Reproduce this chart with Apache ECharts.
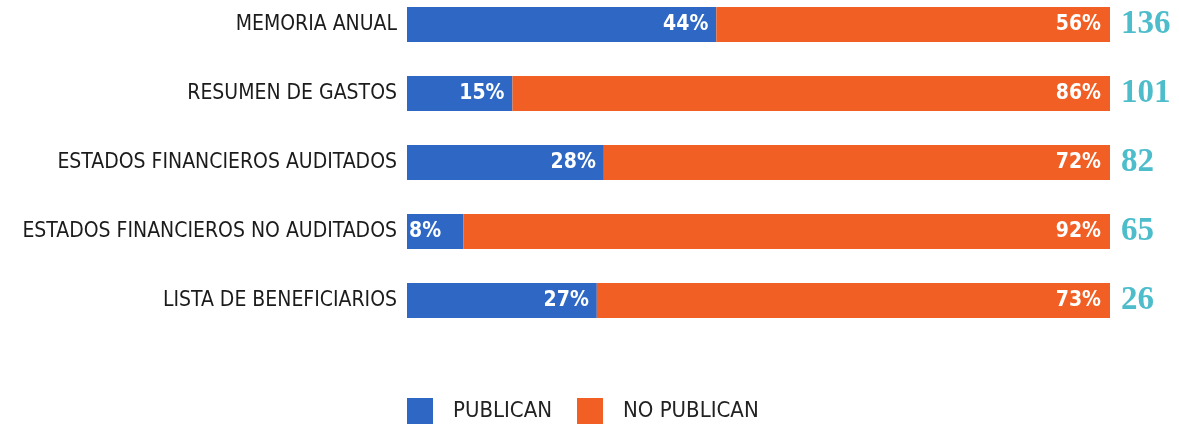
<!DOCTYPE html>
<html>
<head>
<meta charset="utf-8">
<script src="https://cdn.jsdelivr.net/npm/echarts@6/dist/echarts.min.js"></script>
<style>
  html, body { margin: 0; padding: 0; background: #ffffff; }
  #chart { width: 1179px; height: 424px; }
</style>
</head>
<body>
<div id="chart"></div>
<script>
// Publication of documents: share that publish vs. do not publish
const categories = [
  'MEMORIA ANUAL',
  'RESUMEN DE GASTOS',
  'ESTADOS FINANCIEROS AUDITADOS',
  'ESTADOS FINANCIEROS NO AUDITADOS',
  'LISTA DE BENEFICIARIOS'
];
const publican = [44, 15, 28, 8, 27];
const noPublican = [56, 86, 72, 92, 73];
const totals = [136, 101, 82, 65, 26];

const BLUE = '#2e68c4';
const ORANGE = '#f15f24';
const SANS = '"DejaVu Sans Condensed", "Roboto Condensed", Roboto, sans-serif';

const chart = echarts.init(document.getElementById('chart'));

const labelBase = {
  show: true,
  color: '#ffffff',
  fontFamily: SANS,
  fontWeight: 'bold',
  fontSize: 21,
  formatter: p => p.value + '%'
};

chart.setOption({
  animation: false,
  grid: {
    left: 407, right: 69, top: -10, height: 345,
    containLabel: false, outerBoundsMode: 'none'
  },
  legend: {
    left: 407,
    top: 398,
    padding: 0,
    itemWidth: 26,
    itemHeight: 26,
    itemGap: 25,
    icon: 'rect',
    textStyle: { fontFamily: SANS, fontSize: 22, color: '#222222', padding: [0, 0, 0, 15] },
    data: ['PUBLICAN', 'NO PUBLICAN']
  },
  xAxis: { type: 'value', min: 0, max: 100, show: false },
  yAxis: [
    {
      type: 'category',
      data: categories,
      inverse: true,
      axisLine: { show: false },
      axisTick: { show: false },
      axisLabel: { fontFamily: SANS, fontSize: 21, color: '#1b1b1b', margin: 10 }
    },
    {
      type: 'category',
      data: totals,
      inverse: true,
      position: 'right',
      axisLine: { show: false },
      axisTick: { show: false },
      axisLabel: {
        fontFamily: '"Liberation Serif", "DejaVu Serif", serif',
        fontWeight: 'bold', fontSize: 33, color: '#4dbdcb', margin: 11
      }
    }
  ],
  series: [
    {
      name: 'PUBLICAN',
      type: 'bar',
      stack: 'total',
      barWidth: 35,
      itemStyle: { color: BLUE },
      label: Object.assign({}, labelBase, { position: 'insideRight', distance: 8 }),
      data: publican.map(v => v < 10
        ? { value: v, label: { position: 'insideLeft', distance: 2 } }
        : v)
    },
    {
      name: 'NO PUBLICAN',
      type: 'bar',
      stack: 'total',
      barWidth: 35,
      itemStyle: { color: ORANGE },
      label: Object.assign({}, labelBase, { position: 'insideRight', distance: 9 }),
      data: noPublican
    }
  ]
});
</script>
</body>
</html>
